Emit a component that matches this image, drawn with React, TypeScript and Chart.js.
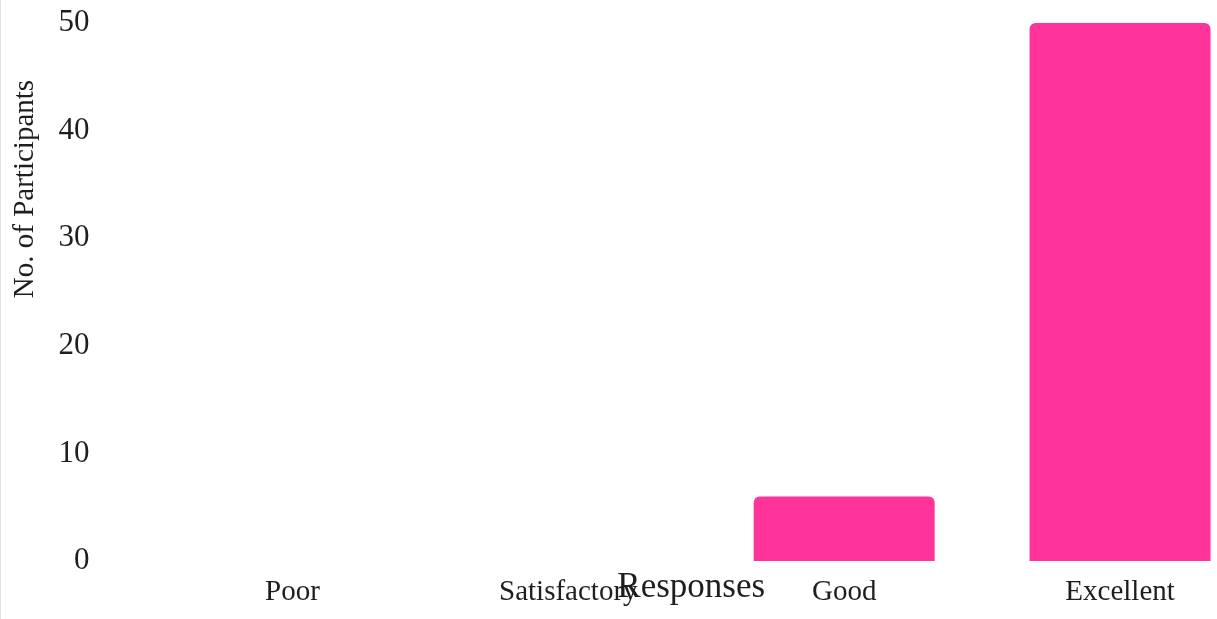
import React, { useEffect, useRef } from 'react';
import { Chart, registerables } from 'chart.js';

Chart.register(...registerables);

const categories = ['Poor', 'Satisfactory', 'Good', 'Excellent'];
const participants = [0, 0, 6, 50];
const yTicks = [0, 10, 20, 30, 40, 50];
const xTitle = 'Responses';
const yTitle = 'No. of Participants';

const FONT = "'Liberation Serif', 'Times New Roman', serif";
const TEXT = '#1e1e1e';
const BAR = '#ff3399';

const axisTitlesPlugin = {
  id: 'axisTitlesOverlay',
  afterDraw(chart: any) {
    const { ctx, chartArea } = chart;
    const midX = (chartArea.left + chartArea.right) / 2;
    const midY = (chartArea.top + chartArea.bottom) / 2;
    ctx.save();
    ctx.fillStyle = TEXT;
    // x axis title
    ctx.font = `35px ${FONT}`;
    ctx.textAlign = 'center';
    ctx.textBaseline = 'alphabetic';
    ctx.fillText(xTitle, midX - 15, chartArea.bottom + 36);
    // y axis title
    ctx.font = `29px ${FONT}`;
    ctx.textBaseline = 'middle';
    ctx.translate(24, midY - 103);
    ctx.rotate(-Math.PI / 2);
    ctx.fillText(yTitle, 0, 0);
    ctx.restore();
  },
};

export default function App() {
  const ref = useRef<HTMLCanvasElement | null>(null);

  useEffect(() => {
    if (!ref.current) return;
    const chart = new Chart(ref.current, {
      type: 'bar',
      data: {
        labels: categories,
        datasets: [
          {
            label: yTitle,
            data: participants,
            backgroundColor: BAR,
            borderRadius: 6,
            borderSkipped: 'start',
            barPercentage: 0.82,
            categoryPercentage: 0.8,
          },
        ],
      },
      options: {
        animation: false,
        responsive: true,
        maintainAspectRatio: false,
        layout: { padding: { top: 23, bottom: 0, left: 0, right: 2 } },
        plugins: {
          legend: { display: false },
          tooltip: { enabled: false },
        },
        scales: {
          x: {
            grid: { display: false, drawTicks: false },
            border: { display: false },
            ticks: { color: TEXT, padding: 14, font: { family: FONT, size: 29 } },
            afterFit: (scale: any) => {
              scale.height = 58;
            },
          },
          y: {
            min: yTicks[0],
            max: yTicks[yTicks.length - 1],
            grid: { display: false, drawTicks: false },
            border: { display: false },
            ticks: {
              stepSize: yTicks[1] - yTicks[0],
              color: TEXT,
              padding: 65,
              font: { family: FONT, size: 31 },
            },
            title: { display: false },
            afterFit: (scale: any) => {
              scale.width = 153.5;
              scale.paddingTop = 0;
              scale.paddingBottom = 0;
            },
          },
        },
      },
      plugins: [axisTitlesPlugin],
    });
    return () => chart.destroy();
  }, []);

  return (
    <div
      style={{
        position: 'fixed',
        left: 0,
        top: 0,
        width: 1260,
        height: 619,
        boxSizing: 'border-box',
        borderLeft: '1px solid #e2e2e2',
        background: '#ffffff',
      }}
    >
      <canvas ref={ref} />
    </div>
  );
}
